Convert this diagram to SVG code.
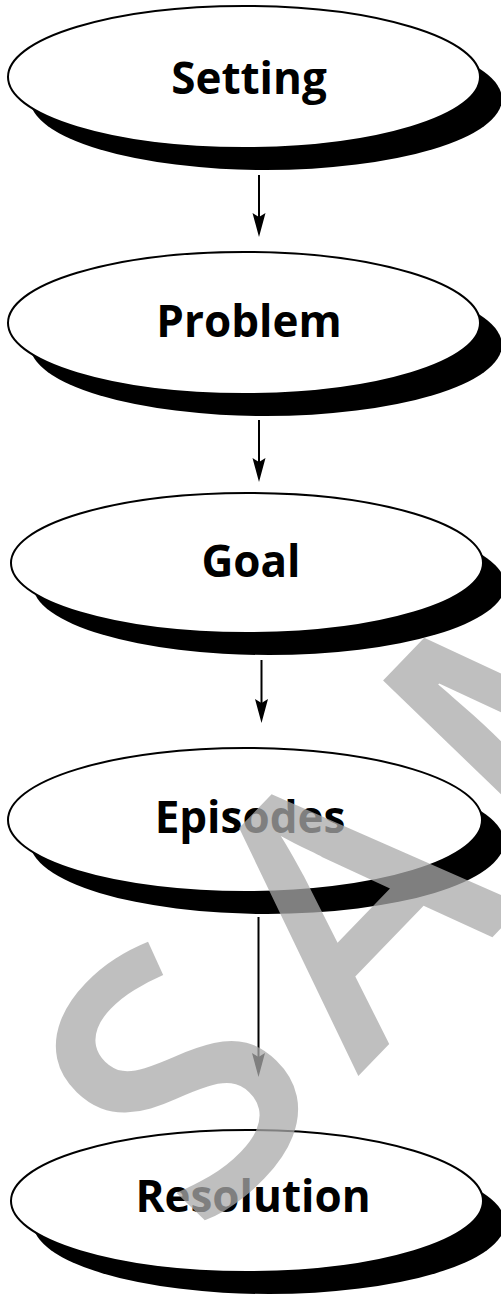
<svg xmlns="http://www.w3.org/2000/svg" width="501" height="1294" viewBox="0 0 501 1294">
<style>
.sh{fill:#000}
.el{fill:#fff;stroke:#000;stroke-width:2}
.lb{font-family:"Open Sans","Noto Sans",sans-serif;font-weight:bold;font-size:44px;fill:#000;text-anchor:middle}
.cn{stroke:#000;stroke-width:2;fill:none;marker-end:url(#ah)}
.wm{font-family:"Open Sans","Noto Sans",sans-serif;font-weight:600;font-size:360px;fill:#aaaaaa;fill-opacity:0.75;letter-spacing:30px}
</style>
<defs>
<marker id="ah" markerUnits="userSpaceOnUse" viewBox="-12 -7 24 14" markerWidth="24" markerHeight="14" refX="0" refY="0" orient="auto">
<path d="M12,0 L-12,-6.5 L-8,0 L-12,6.5 Z" fill="#000"/>
</marker>
</defs>
<g id="node-setting">
<ellipse class="sh" cx="266" cy="99" rx="236" ry="71"/>
<ellipse class="el" cx="244" cy="77" rx="236" ry="71"/>
<text class="lb" x="249" y="94">Setting</text>
</g>
<g id="node-problem">
<ellipse class="sh" cx="266" cy="345" rx="236" ry="71"/>
<ellipse class="el" cx="244" cy="323" rx="236" ry="71"/>
<text class="lb" x="249" y="337">Problem</text>
</g>
<g id="node-goal">
<ellipse class="sh" cx="269" cy="585" rx="236" ry="70"/>
<ellipse class="el" cx="247" cy="563" rx="236" ry="70"/>
<text class="lb" x="251" y="577">Goal</text>
</g>
<g id="node-episodes">
<ellipse class="sh" cx="267" cy="842" rx="237" ry="72"/>
<ellipse class="el" cx="245" cy="820" rx="237" ry="72"/>
<text class="lb" x="250" y="833">Episodes</text>
</g>
<g id="node-resolution">
<ellipse class="sh" cx="269" cy="1223" rx="236" ry="71"/>
<ellipse class="el" cx="247" cy="1201" rx="236" ry="71"/>
<text class="lb" x="253" y="1212">Resolution</text>
</g>
<g id="connectors">
<line class="cn" x1="259" y1="175" x2="259" y2="225"/>
<line class="cn" x1="259" y1="420" x2="259" y2="470"/>
<line class="cn" x1="261.5" y1="660" x2="261.5" y2="711"/>
<line class="cn" x1="258.5" y1="917" x2="258.5" y2="1065"/>
</g>
<text class="wm" transform="translate(200,1240) rotate(-46)">SAMPLE</text>
</svg>
